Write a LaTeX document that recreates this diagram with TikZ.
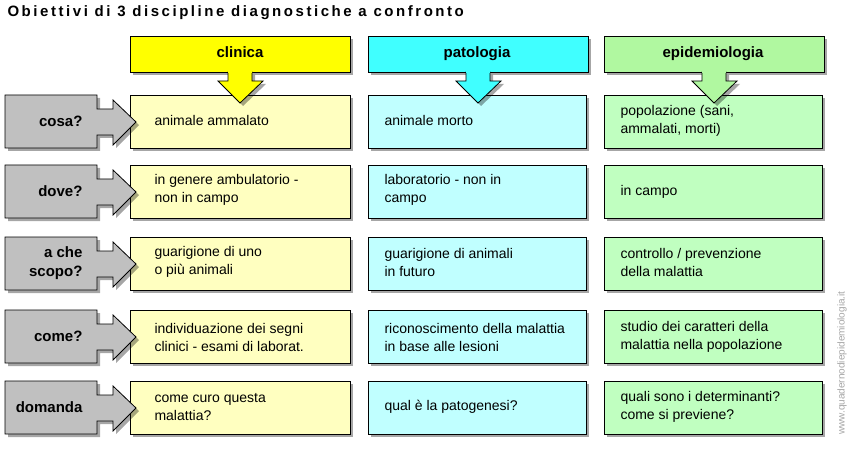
\documentclass[tikz,border=0pt]{standalone}
\usepackage{fontspec}
\setmainfont{Liberation Sans}
\usetikzlibrary{shadows}
\definecolor{yh}{HTML}{FFFF00}\definecolor{yl}{HTML}{FFFFC0}
\definecolor{ch}{HTML}{40FFFF}\definecolor{cl}{HTML}{C0FFFF}
\definecolor{gh}{HTML}{B0F8A0}\definecolor{gl}{HTML}{C0FFC0}
\definecolor{gr}{HTML}{C0C0C0}
\tikzset{
 sh/.style={drop shadow={shadow xshift=3pt,shadow yshift=-3pt,fill=black,opacity=.35}},
 cell/.style={draw=black,line width=0.8pt,sh},
 celltext/.style={anchor=west,align=left,font=\fontsize{14}{18}\selectfont},
 headtext/.style={anchor=base,font=\fontsize{15}{16}\selectfont\bfseries},
 rowtext/.style={anchor=east,align=right,font=\fontsize{15}{19}\selectfont\bfseries}
}
\begin{document}
\begin{tikzpicture}[x=1pt,y=-1pt]
\useasboundingbox[fill=white] (0,0) rectangle (853,457);
\node[anchor=west,font=\fontsize{15}{15}\selectfont\bfseries\addfontfeatures{LetterSpace=17}] (title) at (4,13) {Obiettivi di 3 discipline diagnostiche a confronto};
% rows
\foreach \y [count=\i] in {95,165,237,310,381}{
  \path[cell,fill=yl] (130,\y) rectangle (350,\y+53);
  \path[cell,fill=cl] (368,\y) rectangle (586,\y+53);
  \path[cell,fill=gl] (604,\y) rectangle (822,\y+53);
  \path[cell,fill=gr] (5,\y) -- (97,\y) -- (97,\y+14) -- (113,\y+14) -- (113,\y+5) -- (136,\y+27) -- (113,\y+50) -- (113,\y+40) -- (97,\y+40) -- (97,\y+53) -- (5,\y+53) -- cycle;
}
% headers with down arrows
\foreach \x/\c in {130/yh,368/ch,604/gh}{
  \path[cell,fill=\c] (\x,36) rectangle (\x+220,72);
  \path[cell,fill=\c] (\x+98,72) -- (\x+98,81) -- (\x+88,81) -- (\x+110,103) -- (\x+133,81) -- (\x+122,81) -- (\x+122,72) -- cycle;
  \path[fill=\c] (\x+98.4,68) rectangle (\x+121.6,73);
}
\node[headtext] (h1) at (240,58) {clinica};
\node[headtext] (h2) at (477,58) {patologia};
\node[headtext] (h3) at (713,58) {epidemiologia};
\node[rowtext] (r1) at (86,121) {cosa?};
\node[rowtext] (r2) at (86,191) {dove?};
\node[rowtext] (r3) at (86,263) {a che\\scopo?};
\node[rowtext] (r4) at (86,336) {come?};
\node[rowtext] (r5) at (86,407) {domanda};
% texts
\node[celltext] (a1) at (151,120) {animale ammalato};
\node[celltext] (b1) at (381,120) {animale morto};
\node[celltext] (c1) at (617,121) {popolazione (sani,\\ammalati, morti)};
\node[celltext] (a2) at (151,190) {in genere ambulatorio -\\non in campo};
\node[celltext] (b2) at (381,190) {laboratorio - non in\\campo};
\node[celltext] (c2) at (617,192) {in campo};
\node[celltext] (a3) at (151,262) {guarigione di uno\\o più animali};
\node[celltext] (b3) at (381,262) {guarigione di animali\\in futuro};
\node[celltext] (c3) at (617,262) {controllo / prevenzione\\della malattia};
\node[celltext] (a4) at (151,337) {individuazione dei segni\\clinici - esami di laborat.};
\node[celltext] (b4) at (381,337) {riconoscimento della malattia\\in base alle lesioni};
\node[celltext] (c4) at (617,337) {studio dei caratteri della\\malattia nella popolazione};
\node[celltext] (a5) at (151,407) {come curo questa\\malattia?};
\node[celltext] (b5) at (381,407) {qual è la patogenesi?};
\node[celltext] (c5) at (617,407) {quali sono i determinanti?\\come si previene?};
\node[rotate=90,text=gray!70,font=\fontsize{10}{10}\selectfont] (wm) at (842,363) {www.quadernodiepidemiologia.it};
\end{tikzpicture}
\end{document}
